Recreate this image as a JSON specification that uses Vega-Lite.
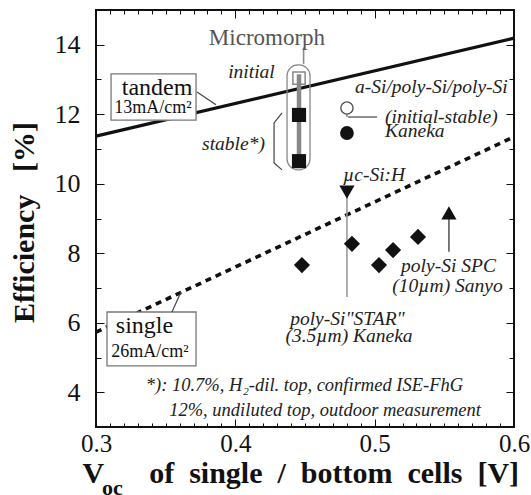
{
  "$schema": "https://vega.github.io/schema/vega-lite/v6.json",
  "width": 418,
  "height": 417,
  "autosize": {"type": "none"},
  "padding": {"left": 96, "top": 10, "right": 17, "bottom": 68},
  "background": "white",
  "config": {
    "view": {"stroke": "#111", "strokeWidth": 2},
    "axis": {"domain": false, "grid": false, "tickColor": "#111", "tickWidth": 1, "labelFont": "Liberation Serif", "titleFont": "Liberation Serif", "labelColor": "#111", "titleColor": "#111"},
    "text": {"font": "Liberation Serif"}
  },
  "resolve": {"axis": {"x": "independent", "y": "independent"}},
  "datasets": {
    "tandem": [{"x": 0.3, "y": 11.37, "x2": 0.6, "y2": 14.19}],
    "single": [{"x": 0.3, "y": 5.73, "x2": 0.6, "y2": 11.35}],
    "boxes": [
      {"x": 0.3108, "y": 13.16, "x2": 0.3718, "y2": 11.83},
      {"x": 0.3079, "y": 6.31, "x2": 0.3718, "y2": 4.76}
    ],
    "capsule": [{"x": 0.4371, "y": 13.42, "x2": 0.4536, "y2": 10.4}],
    "leaders": [
      {"x": 0.3725, "y": 12.64, "x2": 0.3861, "y2": 12.27},
      {"x": 0.3545, "y": 6.31, "x2": 0.361, "y2": 6.885},
      {"x": 0.4809, "y": 11.92, "x2": 0.5017, "y2": 11.92}
    ],
    "grayleaders": [
      {"x": 0.449, "y": 13.92, "x2": 0.449, "y2": 13.45},
      {"x": 0.4801, "y": 12.05, "x2": 0.4801, "y2": 11.92}
    ],
    "mmbar": [{"x": 0.4457, "y": 13.15, "x2": 0.4457, "y2": 10.65}],
    "vlinegray": [{"x": 0.4801, "y": 9.76, "x2": 0.4801, "y2": 6.74}],
    "vlinedark": [{"x": 0.5533, "y": 9.04, "x2": 0.5533, "y2": 8.04}],
    "bracket": [
      {"x": 0.4335, "y": 12.04, "o": 1},
      {"x": 0.4278, "y": 11.75, "o": 2},
      {"x": 0.4278, "y": 10.6, "o": 3},
      {"x": 0.4335, "y": 10.4, "o": 4}
    ],
    "mm_initial": [{"x": 0.4457, "y": 13.04}],
    "mm_stable": [{"x": 0.4457, "y": 11.98}, {"x": 0.4457, "y": 10.65}],
    "asi_initial": [{"x": 0.4801, "y": 12.18}],
    "asi_stable": [{"x": 0.4801, "y": 11.46}],
    "ucsi": [{"x": 0.4801, "y": 9.76}],
    "spc": [{"x": 0.5533, "y": 9.16}],
    "star": [
      {"x": 0.4478, "y": 7.66},
      {"x": 0.4837, "y": 8.27},
      {"x": 0.5031, "y": 7.66},
      {"x": 0.5132, "y": 8.09},
      {"x": 0.5311, "y": 8.47}
    ],
    "lab_it_c": [
      {"x": 0.4116, "y": 13.23, "t": "initial"},
      {"x": 0.3987, "y": 11.13, "t": "stable*)"},
      {"x": 0.553, "y": 7.62, "t": "poly-Si SPC"},
      {"x": 0.5523, "y": 7.05, "t": "(10µm) Sanyo"},
      {"x": 0.4805, "y": 6.1, "t": "poly-Si\"STAR\""},
      {"x": 0.4816, "y": 5.61, "t": "(3.5µm) Kaneka"}
    ],
    "lab_foot": [
      {"x": 0.4496, "y": 4.22, "t": "*): 10.7%, H₂-dil. top, confirmed ISE-FhG"},
      {"x": 0.4644, "y": 3.5, "t": "12%, undiluted top, outdoor measurement"}
    ],
    "lab_it_l": [
      {"x": 0.4859, "y": 12.78, "t": "a-Si/poly-Si/poly-Si"},
      {"x": 0.5074, "y": 11.91, "t": "(initial-stable)"},
      {"x": 0.5074, "y": 11.51, "t": "Kaneka"},
      {"x": 0.4773, "y": 10.26, "t": "µc-Si:H"}
    ],
    "lab_big": [
      {"x": 0.3438, "y": 12.76, "t": "tandem"},
      {"x": 0.3348, "y": 5.9, "t": "single"}
    ],
    "lab_small": [
      {"x": 0.3409, "y": 12.19, "t": "13mA/cm²"},
      {"x": 0.3388, "y": 5.17, "t": "26mA/cm²"}
    ],
    "lab_mm": [{"x": 0.4227, "y": 14.19, "t": "Micromorph"}],
    "lab_sub": [{"x": 0.3043, "y": 1.05, "t": "oc"}]
  },
  "encoding": {
    "x": {"field": "x", "type": "quantitative", "scale": {"domain": [0.3, 0.6], "nice": false, "zero": false}, "axis": null},
    "y": {"field": "y", "type": "quantitative", "scale": {"domain": [3, 15], "nice": false, "zero": false}, "axis": null}
  },
  "layer": [
    {
      "data": {"name": "tandem"},
      "mark": {"type": "rule", "color": "#111", "strokeWidth": 3.2},
      "encoding": {
        "x": {"field": "x", "type": "quantitative", "scale": {"domain": [0.3, 0.6], "nice": false, "zero": false},
          "axis": {"orient": "bottom", "values": [0.3, 0.4, 0.5, 0.6], "format": ".1f", "tickSize": -8, "labelPadding": 12, "labelFontSize": 25, "labelFlush": false, "labelOverlap": false,
            "title": "V\u00a0\u00a0\u00a0\u00a0\u00a0\u00a0of\u00a0\u00a0single\u00a0\u00a0/\u00a0\u00a0bottom\u00a0\u00a0cells\u00a0\u00a0[V]",
            "titleFontSize": 30, "titleFontWeight": "bold", "titleX": -14, "titleY": 55, "titleAlign": "left", "titleBaseline": "alphabetic", "titleAnchor": null}},
        "y": {"field": "y", "type": "quantitative", "scale": {"domain": [3, 15], "nice": false, "zero": false},
          "axis": {"orient": "left", "values": [4, 6, 8, 10, 12, 14], "tickSize": -8, "labelPadding": 24, "labelFontSize": 26, "labelFlush": false, "labelOverlap": false,
            "title": "Efficiency\u00a0\u00a0\u00a0[%]", "titleFontSize": 30, "titleFontWeight": "bold", "titleX": -63, "titleY": 212, "titleAngle": -90, "titleAlign": "center", "titleBaseline": "alphabetic"}},
        "x2": {"field": "x2"},
        "y2": {"field": "y2"}
      }
    },
    {
      "data": {"name": "single"},
      "mark": {"type": "rule", "color": "#111", "strokeWidth": 3.6, "strokeDash": [6, 5]},
      "encoding": {
        "x": {"field": "x", "type": "quantitative", "scale": {"domain": [0.3, 0.6], "nice": false, "zero": false},
          "axis": {"orient": "bottom", "values": [0.31, 0.32, 0.33, 0.34, 0.35, 0.36, 0.37, 0.38, 0.39, 0.41, 0.42, 0.43, 0.44, 0.45, 0.46, 0.47, 0.48, 0.49, 0.51, 0.52, 0.53, 0.54, 0.55, 0.56, 0.57, 0.58, 0.59], "tickSize": -4, "labels": false, "title": null}},
        "y": {"field": "y", "type": "quantitative", "scale": {"domain": [3, 15], "nice": false, "zero": false},
          "axis": {"orient": "left", "values": [5, 7, 9, 11, 13], "tickSize": -5, "labels": false, "title": null}},
        "x2": {"field": "x2"},
        "y2": {"field": "y2"}
      }
    },
    {
      "data": {"name": "boxes"},
      "mark": {"type": "rect", "fill": "white", "stroke": "#777", "strokeWidth": 1.3},
      "encoding": {
        "x": {"field": "x", "type": "quantitative", "scale": {"domain": [0.3, 0.6], "nice": false, "zero": false},
          "axis": {"orient": "top", "values": [0.4, 0.5], "tickSize": -8, "labels": false, "title": null}},
        "y": {"field": "y", "type": "quantitative", "scale": {"domain": [3, 15], "nice": false, "zero": false},
          "axis": {"orient": "right", "values": [4, 6, 8, 10, 12, 14], "tickSize": -8, "labels": false, "title": null}},
        "x2": {"field": "x2"},
        "y2": {"field": "y2"}
      }
    },
    {
      "data": {"name": "capsule"},
      "mark": {"type": "rect", "fillOpacity": 0, "stroke": "#888", "strokeWidth": 1.3, "cornerRadius": 11},
      "encoding": {
        "x": {"field": "x", "type": "quantitative", "scale": {"domain": [0.3, 0.6], "nice": false, "zero": false},
          "axis": {"orient": "top", "values": [0.31, 0.32, 0.33, 0.34, 0.35, 0.36, 0.37, 0.38, 0.39, 0.41, 0.42, 0.43, 0.44, 0.45, 0.46, 0.47, 0.48, 0.49, 0.51, 0.52, 0.53, 0.54, 0.55, 0.56, 0.57, 0.58, 0.59], "tickSize": -4, "labels": false, "title": null}},
        "y": {"field": "y", "type": "quantitative", "scale": {"domain": [3, 15], "nice": false, "zero": false},
          "axis": {"orient": "right", "values": [5, 7, 9, 11, 13], "tickSize": -5, "labels": false, "title": null}},
        "x2": {"field": "x2"},
        "y2": {"field": "y2"}
      }
    },
    {
      "data": {"name": "leaders"},
      "mark": {"type": "rule", "color": "#444", "strokeWidth": 1.2},
      "encoding": {"x2": {"field": "x2"}, "y2": {"field": "y2"}}
    },
    {
      "data": {"name": "grayleaders"},
      "mark": {"type": "rule", "color": "#888", "strokeWidth": 1.6},
      "encoding": {"x2": {"field": "x2"}, "y2": {"field": "y2"}}
    },
    {
      "data": {"name": "vlinegray"},
      "mark": {"type": "rule", "color": "#999", "strokeWidth": 1.6},
      "encoding": {"x2": {"field": "x2"}, "y2": {"field": "y2"}}
    },
    {
      "data": {"name": "vlinedark"},
      "mark": {"type": "rule", "color": "#444", "strokeWidth": 1.4},
      "encoding": {"x2": {"field": "x2"}, "y2": {"field": "y2"}}
    },
    {
      "data": {"name": "bracket"},
      "mark": {"type": "line", "color": "#444", "strokeWidth": 1.2},
      "encoding": {"order": {"field": "o", "type": "quantitative"}}
    },
    {
      "data": {"name": "mm_initial"},
      "mark": {"type": "point", "shape": "square", "size": 150, "filled": true, "fill": "white", "stroke": "#888", "strokeWidth": 1.5, "opacity": 1}
    },
    {
      "data": {"name": "mmbar"},
      "mark": {"type": "rule", "color": "#888", "strokeWidth": 4.5},
      "encoding": {"x2": {"field": "x2"}, "y2": {"field": "y2"}}
    },
    {
      "data": {"name": "mm_stable"},
      "mark": {"type": "point", "shape": "square", "size": 200, "filled": true, "color": "#111", "opacity": 1}
    },
    {
      "data": {"name": "asi_initial"},
      "mark": {"type": "point", "shape": "circle", "size": 150, "filled": true, "fill": "white", "stroke": "#555", "strokeWidth": 1.4, "opacity": 1}
    },
    {
      "data": {"name": "asi_stable"},
      "mark": {"type": "point", "shape": "circle", "size": 190, "filled": true, "color": "#111", "opacity": 1}
    },
    {
      "data": {"name": "ucsi"},
      "mark": {"type": "point", "shape": "triangle-down", "size": 230, "filled": true, "color": "#111", "opacity": 1}
    },
    {
      "data": {"name": "spc"},
      "mark": {"type": "point", "shape": "triangle-up", "size": 230, "filled": true, "color": "#111", "opacity": 1}
    },
    {
      "data": {"name": "star"},
      "mark": {"type": "point", "shape": "diamond", "size": 260, "filled": true, "color": "#111", "opacity": 1}
    },
    {
      "data": {"name": "lab_it_c"},
      "mark": {"type": "text", "fontSize": 19.5, "fontStyle": "italic", "color": "#222", "align": "center", "baseline": "middle"},
      "encoding": {"text": {"field": "t"}}
    },
    {
      "data": {"name": "lab_foot"},
      "mark": {"type": "text", "fontSize": 18.5, "fontStyle": "italic", "color": "#222", "align": "center", "baseline": "middle"},
      "encoding": {"text": {"field": "t"}}
    },
    {
      "data": {"name": "lab_it_l"},
      "mark": {"type": "text", "fontSize": 19.5, "fontStyle": "italic", "color": "#222", "align": "left", "baseline": "middle"},
      "encoding": {"text": {"field": "t"}}
    },
    {
      "data": {"name": "lab_big"},
      "mark": {"type": "text", "fontSize": 24, "color": "#111", "align": "center", "baseline": "middle"},
      "encoding": {"text": {"field": "t"}}
    },
    {
      "data": {"name": "lab_small"},
      "mark": {"type": "text", "fontSize": 18, "color": "#111", "align": "center", "baseline": "middle"},
      "encoding": {"text": {"field": "t"}}
    },
    {
      "data": {"name": "lab_mm"},
      "mark": {"type": "text", "fontSize": 23, "color": "#555", "align": "center", "baseline": "middle"},
      "encoding": {"text": {"field": "t"}}
    },
    {
      "data": {"name": "lab_sub"},
      "mark": {"type": "text", "fontSize": 22, "fontWeight": "bold", "color": "#111", "align": "left", "baseline": "alphabetic"},
      "encoding": {"text": {"field": "t"}}
    }
  ]
}
